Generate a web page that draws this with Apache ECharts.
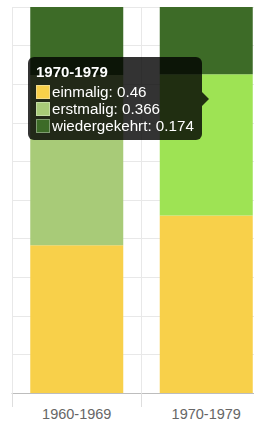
<!DOCTYPE html>
<html>
<head>
<meta charset="utf-8">
<script src="https://cdn.jsdelivr.net/npm/echarts@6/dist/echarts.min.js"></script>
<style>
html,body{margin:0;padding:0;background:#fff;}
#c{width:254px;height:421px;}
</style>
</head>
<body>
<div id="c"></div>
<script>
var categories = ['1960-1969', '1970-1979'];
var einmalig = [0.383, 0.46];
var erstmalig = [0.441, 0.366];
var wiedergekehrt = [0.176, 0.174];
var seriesNames = ['einmalig', 'erstmalig', 'wiedergekehrt'];
var yTicks = [0, 0.1, 0.2, 0.3, 0.4, 0.5, 0.6, 0.7, 0.8, 0.9, 1];

var cYellow = '#f8d04a';
var cLight = '#a8cb78';
var cLightHover = '#9ee354';
var cDark = '#3d6b27';
var swatch = [
  {bg: cYellow, border: '#f3dc8a'},
  {bg: cLight, border: '#c3dca3'},
  {bg: cDark, border: '#7f9c70'}
];

var chart = echarts.init(document.getElementById('c'), null, {renderer: 'svg'});
var font = '"Liberation Sans", Arial, Helvetica, sans-serif';

function mkData(vals, colors) {
  return vals.map(function (v, i) {
    return colors ? {value: v, itemStyle: {color: colors[i]}} : v;
  });
}

var option = {
  animation: false,
  grid: {left: 12, top: 7, width: 259, height: 386, containLabel: false, outerBoundsMode: 'none'},
  tooltip: {
    trigger: 'axis',
    axisPointer: {type: 'none', triggerEmphasis: false},
    alwaysShowContent: true,
    transitionDuration: 0,
    position: [28, 57],
    backgroundColor: 'rgba(0,0,0,0.8)',
    borderWidth: 0,
    padding: [6, 8],
    extraCssText: 'box-shadow:none;border-radius:6px;',
    textStyle: {color: '#fff', fontFamily: font},
    formatter: function (params) {
      var h = '<div style="font-family:' + font.replace(/"/g, "'") + ';color:#fff;">';
      h += '<div style="font-weight:bold;font-size:15px;line-height:17px;margin-bottom:3px;">' + params[0].name + '</div>';
      params.forEach(function (p) {
        var s = swatch[p.seriesIndex];
        h += '<div style="font-size:15.2px;line-height:17px;white-space:nowrap;">' +
          '<span style="display:inline-block;box-sizing:border-box;width:14px;height:14px;vertical-align:-2px;margin-right:2px;background:' + s.bg + ';border:1px solid ' + s.border + ';"></span>' +
          p.seriesName + ': ' + p.value + '</div>';
      });
      h += '<div style="position:absolute;right:-7px;top:35px;width:0;height:0;border-top:7px solid transparent;border-bottom:7px solid transparent;border-left:7px solid rgba(0,0,0,0.8);"></div>';
      h += '</div>';
      return h;
    }
  },
  xAxis: {
    type: 'category',
    data: categories,
    boundaryGap: true,
    axisLine: {lineStyle: {color: '#bdbdbd', width: 1}},
    axisTick: {show: true, length: 14, lineStyle: {color: '#dedede'}},
    splitLine: {show: true, lineStyle: {color: '#e8e8e8', width: 1}},
    axisLabel: {color: '#666', fontSize: 14.5, lineHeight: 14, fontFamily: font, margin: 14}
  },
  yAxis: {
    type: 'value',
    min: yTicks[0],
    max: yTicks[yTicks.length - 1],
    interval: 0.1,
    axisLine: {show: false},
    axisTick: {show: false},
    axisLabel: {show: false},
    splitLine: {show: true, lineStyle: {color: '#e8e8e8', width: 1}}
  },
  series: [
    {name: seriesNames[0], type: 'bar', stack: 'a', barWidth: 93, data: mkData(einmalig),
      itemStyle: {color: cYellow}, emphasis: {disabled: true}},
    {name: seriesNames[1], type: 'bar', stack: 'a', barWidth: 93, data: mkData(erstmalig, [cLight, cLightHover]),
      itemStyle: {color: cLight}, emphasis: {disabled: true}},
    {name: seriesNames[2], type: 'bar', stack: 'a', barWidth: 93, data: mkData(wiedergekehrt),
      itemStyle: {color: cDark}, emphasis: {disabled: true}}
  ]
};
chart.setOption(option);
chart.dispatchAction({type: 'showTip', seriesIndex: 0, dataIndex: 1});
</script>
</body>
</html>
